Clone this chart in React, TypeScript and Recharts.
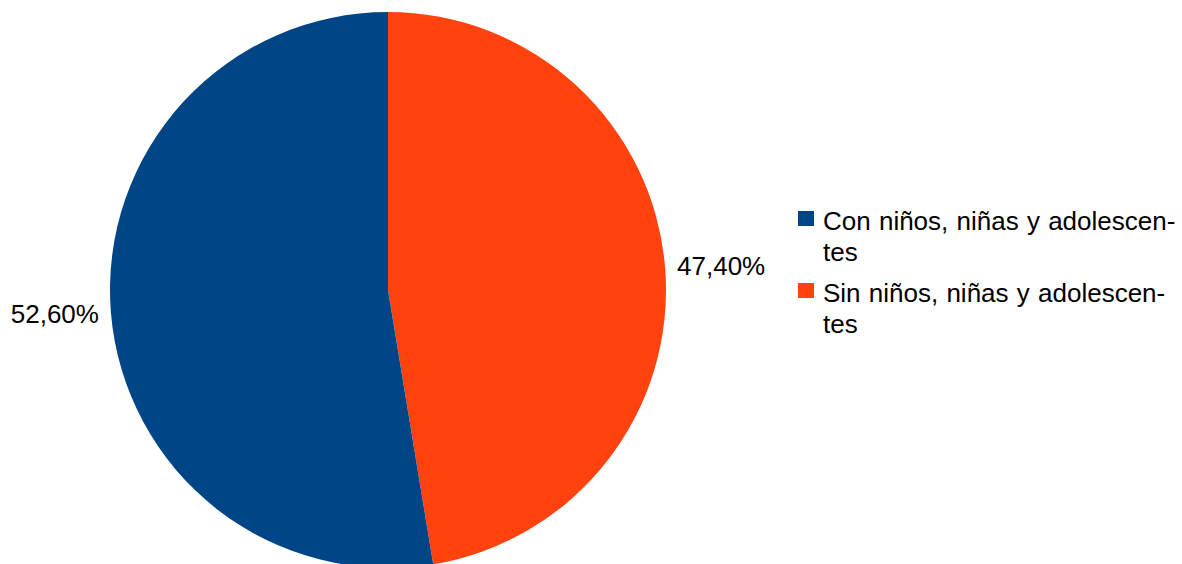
import React from "react"
import { PieChart, Pie, Cell, Legend } from "recharts"

// slices drawn clockwise from 12 o'clock: orange first, then blue
const sliceNames = ["Sin niños, niñas y adolescentes", "Con niños, niñas y adolescentes"]
const sliceValues = [47.4, 52.6]
const sliceColors = ["#ff420e", "#004586"]

// legend order as in the original, wrapped with the hyphen break
const legendLines = [
  ["Con niños, niñas y adolescen-", "tes"],
  ["Sin niños, niñas y adolescen-", "tes"],
]
const legendColors = ["#004586", "#ff420e"]

const data = sliceNames.map((name, i) => ({ name, value: sliceValues[i] }))

const FONT = '"Liberation Sans", Arial, sans-serif'
const RADIAN = Math.PI / 180

function renderLabel(props: any) {
  const { cx, cy, midAngle, outerRadius, value } = props
  const r = outerRadius + 12
  const cos = Math.cos(-midAngle * RADIAN)
  const x = cx + r * cos
  const y = cy + r * Math.sin(-midAngle * RADIAN)
  return (
    <text
      x={x}
      y={y}
      fill="#000"
      fontSize={26}
      fontFamily={FONT}
      textAnchor={cos >= 0 ? "start" : "end"}
      dominantBaseline="central"
    >
      {value.toFixed(2).replace(".", ",") + "%"}
    </text>
  )
}

function LegendContent() {
  return (
    <div style={{ fontFamily: FONT, fontSize: 26, lineHeight: "31px", color: "#000", wordSpacing: 1 }}>
      {legendLines.map((lines, i) => (
        <div key={i} style={{ display: "flex", alignItems: "flex-start", marginBottom: 10 }}>
          <span
            style={{
              width: 16,
              height: 15,
              background: legendColors[i],
              marginTop: 5,
              marginRight: 9,
              flex: "none",
            }}
          />
          <div style={{ whiteSpace: "nowrap" }}>
            {lines.map((l, j) => (
              <div key={j}>{l}</div>
            ))}
          </div>
        </div>
      ))}
    </div>
  )
}

export default function App() {
  return (
    <div style={{ width: 1182, height: 564, background: "#fff" }}>
      <style>{"body{margin:0}"}</style>
      <PieChart width={1182} height={564} margin={{ top: 0, right: 0, bottom: 0, left: 0 }}>
        <Pie
          data={data}
          dataKey="value"
          nameKey="name"
          cx={388}
          cy={290}
          outerRadius={278}
          startAngle={90}
          endAngle={-270}
          stroke="none"
          label={renderLabel}
          labelLine={false}
          isAnimationActive={false}
        >
          {data.map((d, i) => (
            <Cell key={d.name} fill={sliceColors[i]} />
          ))}
        </Pie>
        <Legend
          content={<LegendContent />}
          wrapperStyle={{ left: 798, top: 206, width: 384 }}
        />
      </PieChart>
    </div>
  )
}
